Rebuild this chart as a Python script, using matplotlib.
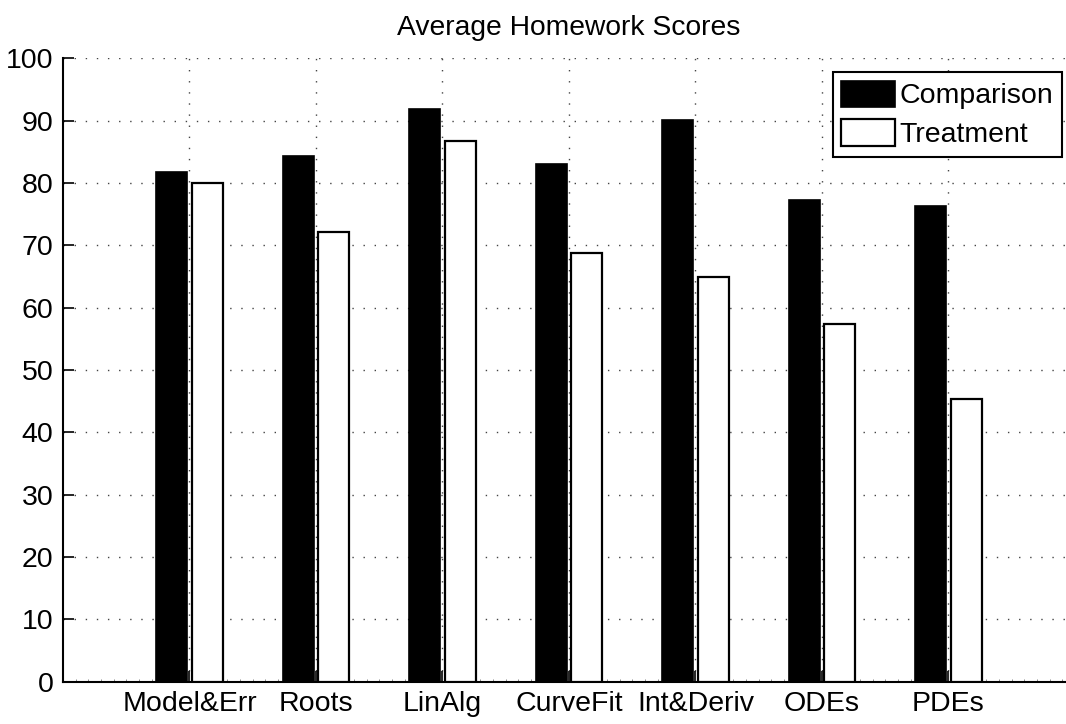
import matplotlib
matplotlib.use("Agg")
import matplotlib.pyplot as plt
import numpy as np
from matplotlib.ticker import MultipleLocator

plt.rcParams['font.family'] = ['Liberation Sans', 'DejaVu Sans']

# %% data
topics = ["Model&Err", "Roots", "LinAlg", "CurveFit", "Int&Deriv", "ODEs", "PDEs"]
comparison = [81.7, 84.3, 91.9, 83.0, 90.1, 77.3, 76.3]
treatment = [80.0, 72.2, 86.8, 68.8, 64.9, 57.4, 45.3]
yticks = list(range(0, 101, 10))

# %% plot
fig = plt.figure(figsize=(10.66, 7.24), dpi=100)
# axes run a bit past the right edge of the picture, like the reference
ax = fig.add_axes([0.0591, 0.0584, 0.9493, 0.8611])

x = np.arange(1, len(topics) + 1)
w = 0.245
ax.bar(x - 0.14, comparison, w, color="black", edgecolor="black", linewidth=1.2,
       label="Comparison", zorder=3)
ax.bar(x + 0.14, treatment, w, color="white", edgecolor="black", linewidth=1.6,
       label="Treatment", zorder=3)

ax.set_xlim(0, 8)
ax.set_ylim(0, 100)
ax.set_xticks(x)
ax.set_xticklabels(topics)
ax.set_yticks(yticks)
ax.xaxis.set_minor_locator(MultipleLocator(0.1))

ax.grid(True, which="major", color="#444444", linestyle=(0, (1, 7)), linewidth=1.0, zorder=0)
ax.tick_params(axis="both", which="major", direction="in", length=8, width=1.2,
               labelsize=20.5, pad=7)
ax.tick_params(axis="x", which="minor", direction="in", length=2, width=0.6,
               color="#777777")
ax.tick_params(axis="y", which="minor", left=False)

for s in ["top", "right"]:
    ax.spines[s].set_visible(False)
for s in ["left", "bottom"]:
    ax.spines[s].set_linewidth(1.5)

ax.set_title("Average Homework Scores", fontsize=20.3, pad=17)

leg = ax.legend(loc="upper right", bbox_to_anchor=(1062 / 1066, 1 - 72 / 724),
                bbox_transform=fig.transFigure, fontsize=20.5, fancybox=False,
                framealpha=1, edgecolor="black", borderpad=0.3, labelspacing=0.35,
                handlelength=1.9, handleheight=1.05, handletextpad=0.15, borderaxespad=0)
leg.get_frame().set_linewidth(1.5)

fig.savefig("out.png", dpi=100)
